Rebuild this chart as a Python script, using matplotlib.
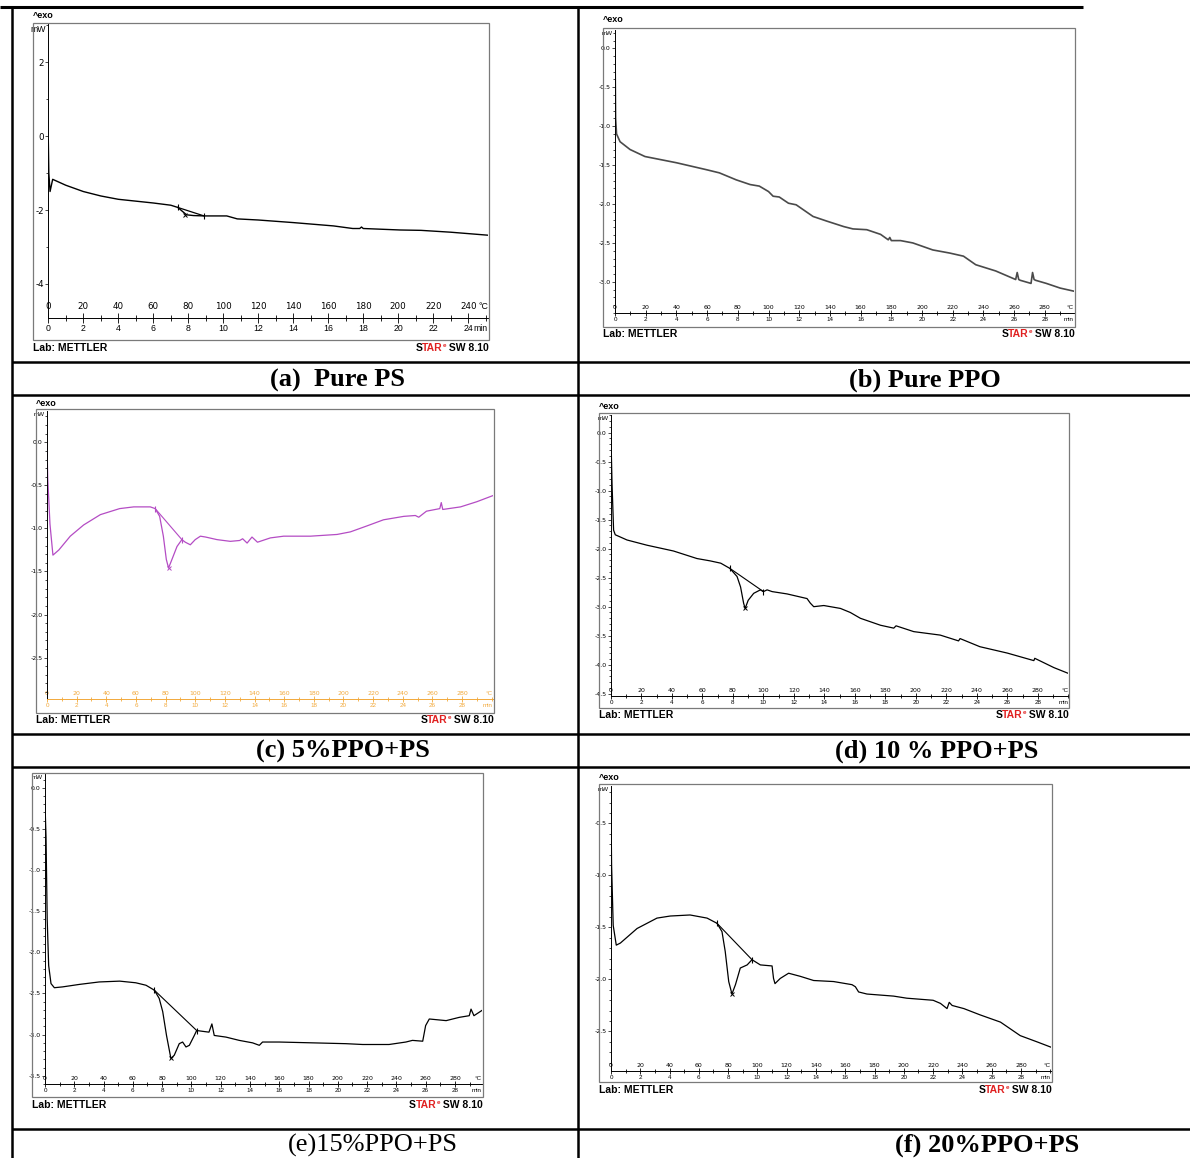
import numpy as np
import matplotlib.pyplot as plt
from matplotlib.patches import Rectangle
from matplotlib.lines import Line2D
from matplotlib.ticker import MultipleLocator, FixedLocator, FuncFormatter

W, H = 1190, 1158

# ---- DSC traces: time (min) vs heat flow (mW) ----
# (a) Pure PS
a_time = [0, 0.03, 0.1, 0.25, 1.0, 2.0, 3.0, 4.0, 5.0, 6.0, 7.0, 7.4, 7.9, 8.3, 8.9, 9.5,
          10.2, 10.8, 12.0, 14.0, 16.3, 17.4, 17.8, 17.9, 18.0, 20.1, 21.3, 23.0, 25.1]
a_mw = [-0.1, -1.0, -1.5, -1.17, -1.33, -1.5, -1.62, -1.71, -1.76, -1.81, -1.87, -1.93, -2.13,
        -2.15, -2.16, -2.16, -2.16, -2.24, -2.27, -2.34, -2.43, -2.5, -2.5, -2.46, -2.5,
        -2.54, -2.55, -2.6, -2.68]
a_tan_time = [7.4, 8.9]
a_tan_mw = [-1.93, -2.16]
a_peak = [7.8, -2.14]

# (b) Pure PPO
b_time = [0, 0.04, 0.1, 0.33, 0.98, 1.95, 4.0, 5.97, 6.8, 7.9, 8.8, 9.4, 10.0, 10.3, 10.7,
          11.3, 11.8, 12.9, 13.8, 14.9, 15.5, 16.4, 17.3, 17.8, 17.9, 18.0, 18.6, 19.4,
          20.7, 21.8, 22.7, 23.5, 24.8, 26.1, 26.2, 26.3, 26.4, 27.1, 27.2, 27.3, 27.4,
          28.1, 29.0, 29.9]
b_mw = [-0.02, -0.9, -1.1, -1.2, -1.3, -1.39, -1.47, -1.56, -1.6, -1.69, -1.75, -1.77, -1.84,
        -1.9, -1.91, -1.99, -2.01, -2.16, -2.22, -2.29, -2.32, -2.33, -2.39, -2.46, -2.43,
        -2.47, -2.47, -2.5, -2.59, -2.63, -2.67, -2.78, -2.86, -2.97, -2.88, -2.97, -2.98,
        -3.02, -2.88, -2.97, -2.98, -3.02, -3.08, -3.12]

# (c) 5%PPO+PS
c_time = [0, 0.05, 0.2, 0.4, 0.8, 1.57, 2.47, 3.6, 4.9, 5.85, 6.97, 7.3, 7.6, 7.85, 8.05,
          8.2, 8.43, 8.77, 9.1, 9.33, 9.67, 10.0, 10.35, 10.7, 11.47, 12.37, 13.0, 13.2,
          13.5, 13.83, 14.2, 15.07, 15.97, 17.77, 19.57, 20.47, 21.6, 22.7, 24.07, 24.85,
          25.08, 25.6, 26.5, 26.6, 26.7, 27.9, 29.0, 30.07]
c_mw = [-0.05, -0.42, -0.95, -1.31, -1.25, -1.09, -0.96, -0.84, -0.77, -0.75, -0.75, -0.77,
        -0.86, -1.09, -1.36, -1.46, -1.36, -1.21, -1.13, -1.16, -1.19, -1.13, -1.09, -1.1,
        -1.13, -1.15, -1.14, -1.12, -1.17, -1.1, -1.16, -1.11, -1.09, -1.09, -1.07, -1.04,
        -0.97, -0.9, -0.86, -0.85, -0.87, -0.8, -0.77, -0.7, -0.78, -0.75, -0.69, -0.62]
c_tan_time = [7.3, 9.1]
c_tan_mw = [-0.77, -1.13]
c_peak = [8.2, -1.46]

# (d) 10 % PPO+PS
d_time = [0, 0.07, 0.17, 0.28, 1.05, 2.36, 4.1, 5.64, 6.5, 7.2, 7.8, 8.27, 8.5, 8.7, 8.8,
          9.0, 9.36, 9.8, 10.0, 10.24, 10.57, 11.55, 12.86, 13.08, 13.3, 13.96, 15.05, 15.7,
          16.36, 17.68, 18.55, 18.7, 19.86, 21.6, 22.8, 22.9, 24.2, 26.0, 27.74, 27.8,
          29.05, 30.0]
d_mw = [-0.1, -0.9, -1.68, -1.76, -1.85, -1.94, -2.04, -2.17, -2.21, -2.25, -2.34, -2.48,
        -2.66, -2.94, -3.03, -2.89, -2.77, -2.71, -2.74, -2.71, -2.74, -2.78, -2.86, -2.94,
        -3.0, -2.98, -3.03, -3.1, -3.2, -3.32, -3.37, -3.33, -3.43, -3.49, -3.59, -3.55,
        -3.69, -3.8, -3.93, -3.89, -4.05, -4.15]
d_tan_time = [7.8, 10.0]
d_tan_mw = [-2.34, -2.74]
d_peak = [8.8, -3.03]

# (e) 15%PPO+PS
e_time = [0, 0.07, 0.15, 0.25, 0.41, 0.64, 1.2, 2.34, 3.7, 5.1, 6.2, 6.9, 7.47, 7.8, 8.04,
          8.3, 8.6, 8.83, 9.17, 9.4, 9.63, 9.86, 10.2, 10.36, 10.77, 11.2, 11.4, 11.56,
          12.36, 13.27, 14.18, 14.64, 14.86, 16.0, 18.28, 20.55, 21.7, 23.5, 24.65, 25.1,
          25.8, 26.0, 26.25, 27.4, 28.3, 28.98, 29.1, 29.3, 29.9]
e_mw = [-0.19, -0.6, -1.6, -2.16, -2.38, -2.43, -2.42, -2.39, -2.36, -2.35, -2.37, -2.4,
        -2.46, -2.56, -2.72, -3.01, -3.29, -3.25, -3.11, -3.09, -3.15, -3.13, -3.01, -2.95,
        -2.96, -2.97, -2.87, -3.01, -3.03, -3.07, -3.1, -3.13, -3.09, -3.09, -3.1, -3.11,
        -3.12, -3.12, -3.09, -3.07, -3.08, -2.89, -2.81, -2.83, -2.79, -2.77, -2.69, -2.77,
        -2.7]
e_tan_time = [7.47, 10.36]
e_tan_mw = [-2.46, -2.95]
e_peak = [8.6, -3.29]

# (f) 20%PPO+PS
f_time = [0, 0.04, 0.15, 0.36, 0.64, 1.78, 3.14, 4.05, 5.4, 6.56, 7.24, 7.58, 7.8, 8.04,
          8.26, 8.5, 8.83, 9.3, 9.63, 10.2, 11.0, 11.1, 11.2, 11.56, 12.13, 12.93, 13.84,
          15.2, 16.46, 16.69, 16.91, 17.48, 19.3, 20.2, 22.0, 22.5, 22.95, 23.1, 23.3,
          24.1, 25.2, 26.6, 27.95, 29.1, 30.03]
f_mw = [-0.36, -0.9, -1.48, -1.67, -1.65, -1.51, -1.41, -1.39, -1.38, -1.41, -1.46, -1.54,
        -1.73, -2.02, -2.14, -2.05, -1.89, -1.86, -1.81, -1.86, -1.87, -1.99, -2.04, -1.99,
        -1.94, -1.97, -2.01, -2.02, -2.05, -2.07, -2.12, -2.14, -2.16, -2.18, -2.2, -2.23,
        -2.28, -2.22, -2.25, -2.28, -2.34, -2.41, -2.54, -2.6, -2.65]
f_tan_time = [7.24, 9.63]
f_tan_mw = [-1.46, -1.81]
f_peak = [8.26, -2.14]

captions = ["(a)  Pure PS", "(b) Pure PPO", "(c) 5%PPO+PS",
            "(d) 10 % PPO+PS", "(e)15%PPO+PS", "(f) 20%PPO+PS"]

SANS = "Liberation Sans"
SERIF = "Liberation Serif"

fig = plt.figure(figsize=(W / 100, H / 100), dpi=100)


def fx(x):
    return x / W


def fy(y):
    return 1 - y / H


def hline(y, x0, x1, lw=1.8):
    fig.add_artist(Line2D([fx(x0), fx(x1)], [fy(y), fy(y)], transform=fig.transFigure,
                          color="black", lw=lw, solid_capstyle="butt"))


def vline(x, y0, y1, lw=1.8):
    fig.add_artist(Line2D([fx(x), fx(x)], [fy(y0), fy(y1)], transform=fig.transFigure,
                          color="black", lw=lw, solid_capstyle="butt"))


def star_label(xr, y, fs):
    # "STAR^e SW 8.10" with the red letters of the Mettler logo
    sw = fig.text(fx(xr), fy(y), " SW 8.10", ha="right", va="center",
                  fontsize=fs, weight="bold", family=SANS)
    sup = plt.annotate("e", xy=(0, 1), xycoords=sw, ha="right", va="top",
                       fontsize=fs * 0.6, weight="bold", color="#e02020", family=SANS,
                       annotation_clip=False)
    tar = plt.annotate("TAR", xy=(0, 0), xycoords=(sup, sw), ha="right", va="bottom",
                       fontsize=fs, weight="bold", color="#e02020", family=SANS,
                       annotation_clip=False)
    plt.annotate("S", xy=(0, 0), xycoords=tar, ha="right", va="bottom",
                 fontsize=fs, weight="bold", color="black", family=SANS,
                 annotation_clip=False)


def dsc_panel(frame, axbox, xmax, ylim, ymajor, time, mw, tan_t, tan_mw, peak,
              exo_y, lab_y, color="black", ruler="black", fs=4.5, yfmt="{:.1f}",
              ticklen=(5, 3.5), tpad=2.5, lw=0.9, show_exo=True, lab_fs=7.5):
    l, t, r, b = frame
    fig.add_artist(Rectangle((fx(l), fy(b)), (r - l) / W, (b - t) / H,
                             transform=fig.transFigure, fill=False,
                             ec="#7a7a7a", lw=0.9))
    al, at, ar, ab = axbox
    ax = fig.add_axes([fx(al), fy(ab), (ar - al) / W, (ab - at) / H])
    ax.patch.set_alpha(0)
    for s in ("top", "right"):
        ax.spines[s].set_visible(False)
    ax.spines["left"].set_linewidth(0.7)
    ax.spines["bottom"].set_linewidth(0.7)
    ax.spines["bottom"].set_color(ruler)
    ax.set_xlim(0, xmax)
    ax.set_ylim(*ylim)

    # labelled minutes stop short of the "min" unit at the right end
    ax.xaxis.set_major_locator(FixedLocator(np.arange(0, xmax - 0.9, 2)))
    ax.xaxis.set_minor_locator(MultipleLocator(1))
    ax.tick_params(axis="x", which="major", direction="inout", length=ticklen[0],
                   width=0.6, labelsize=fs, pad=0.5, color=ruler, labelcolor=ruler)
    ax.tick_params(axis="x", which="minor", direction="inout", length=ticklen[1],
                   width=0.6, color=ruler)
    for lab in ax.get_xticklabels():
        lab.set_family(SANS)

    ax.yaxis.set_major_locator(MultipleLocator(ymajor))
    ax.yaxis.set_minor_locator(MultipleLocator(ymajor / 5 if ymajor < 1 else ymajor / 2))
    ax.yaxis.set_major_formatter(FuncFormatter(lambda v, p: yfmt.format(round(v, 1) + 0)))
    ax.tick_params(axis="y", which="major", direction="out", length=2.5, width=0.5,
                   labelsize=fs, pad=0.5)
    ax.tick_params(axis="y", which="minor", direction="out", length=1.5, width=0.5)

    # temperature scale (10 K/min from 0 °C) written above the time ruler
    sec = ax.secondary_xaxis(0, functions=(lambda m: m * 10, lambda T: T / 10))
    sec.set_alignment("top")
    sec.xaxis.set_major_locator(FixedLocator(np.arange(0, xmax * 10 - 9, 20)))
    sec.tick_params(length=0, labelsize=fs, pad=tpad, labelcolor=ruler)
    for s in sec.spines.values():
        s.set_visible(False)

    ax.annotate("°C", xy=(1, 0), xycoords="axes fraction", xytext=(0, tpad),
                textcoords="offset points", ha="right", va="bottom", fontsize=fs,
                color=ruler, family=SANS)
    ax.annotate("min", xy=(1, 0), xycoords="axes fraction",
                xytext=(0, -(ticklen[0] / 2 + 0.5)), textcoords="offset points",
                ha="right", va="top", fontsize=fs, color=ruler, family=SANS)
    ax.annotate("mW", xy=(0, 1), xycoords="axes fraction", xytext=(-2, -1),
                textcoords="offset points", ha="right", va="top", fontsize=fs,
                family=SANS)

    ax.plot(time, mw, color=color, lw=lw)
    ax.plot(tan_t, tan_mw, color=color, lw=lw * 0.9)
    ax.plot(tan_t, tan_mw, ls="none", marker="|", ms=5, mew=0.8, color=color)
    ax.plot(peak[0], peak[1], ls="none", marker="x", ms=3, mew=0.7, color=color)

    if show_exo:
        fig.text(fx(l), fy(exo_y), "^exo", fontsize=lab_fs - 1, weight="bold",
                 ha="left", va="center", family=SANS)
    fig.text(fx(l), fy(lab_y), "Lab: METTLER", fontsize=lab_fs, weight="bold",
             ha="left", va="center", family=SANS)
    star_label(r, lab_y, lab_fs)
    return ax


# (a) Pure PS
dsc_panel((33, 23, 489, 340), (48.3, 24, 488, 318), 25.13, (-4.92, 3.03), 2,
          a_time, a_mw, a_tan_time, a_tan_mw, a_peak, 15, 348,
          fs=6.3, yfmt="{:.0f}", ticklen=(7, 4.5), tpad=5, lw=1.0)
# (b) Pure PPO
dsc_panel((603, 28, 1075, 327), (615, 30, 1074, 313), 29.9, (-3.40, 0.235), 0.5,
          b_time, b_mw, [], [], [[], []], 20, 334, color="#4a4a4a", lw=1.2)
# (c) 5%PPO+PS
dsc_panel((36, 409, 494, 713), (47, 411, 492.7, 699), 30.07, (-2.98, 0.363), 0.5,
          c_time, c_mw, c_tan_time, c_tan_mw, c_peak, 403, 720,
          color="#b44cc4", ruler="#f2a93b")
# (d) 10 % PPO+PS
dsc_panel((599, 413, 1069, 708), (611, 415, 1068.3, 696), 30.0, (-4.54, 0.305), 0.5,
          d_time, d_mw, d_tan_time, d_tan_mw, d_peak, 406, 715)
# (e) 15%PPO+PS
dsc_panel((31.7, 773, 482.7, 1097), (45, 774, 482, 1084), 29.85, (-3.60, 0.167), 0.5,
          e_time, e_mw, e_tan_time, e_tan_mw, e_peak, 767, 1105, show_exo=False)
# (f) 20%PPO+PS
dsc_panel((599, 784, 1052, 1082), (611, 786, 1050.7, 1071), 30.03, (-2.88, -0.14), 0.5,
          f_time, f_mw, f_tan_time, f_tan_mw, f_peak, 777, 1090)

# ---- table rules ----
hline(7, 0, 1083, lw=2.2)
vline(12, 7, 1158)
vline(578, 7, 1158)
for yy in (362, 395, 734, 767, 1129):
    hline(yy, 12, 1190)

# ---- captions ----
cap_pos = [(337, 380), (925, 380), (343, 751), (937, 751), (373, 1145), (987, 1145)]
for i, (cap, (cx, cy)) in enumerate(zip(captions, cap_pos)):
    fig.text(fx(cx), fy(cy), cap, ha="center", va="center", fontsize=19,
             weight="normal" if i == 4 else "bold", family=SERIF)

fig.savefig("out.png", dpi=100)
